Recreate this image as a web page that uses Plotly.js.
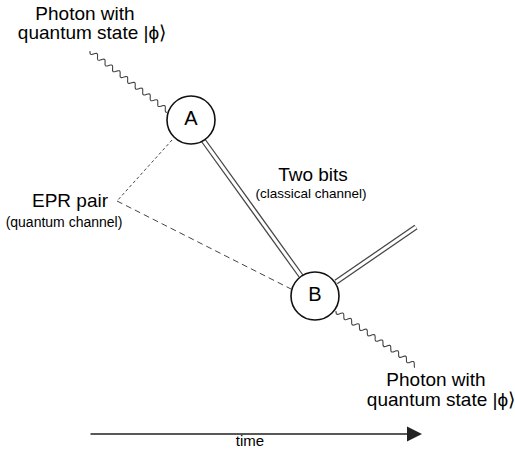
<!DOCTYPE html>
<html>
<head>
<meta charset="utf-8">
<script src="https://cdn.plot.ly/plotly-3.0.1.min.js"></script>
<style>html,body{margin:0;padding:0;background:#fff;}#chart{width:515px;height:456px;}</style>
</head>
<body>
<div id="chart"></div>
<script>
// ---- diagram data ----
const nodeLabels = ['A', 'B'];
const nodeX = [191, 315];
const nodeY = [120, 296];

const photonInX = [90, 168];
const photonInY = [51, 111];
const photonOutX = [336, 416];
const photonOutY = [311, 366];

const eprShortX = [172, 117];
const eprShortY = [140, 201];
const eprLongX = [117, 291];
const eprLongY = [201, 289];

const classicalABX = [203, 301];
const classicalABY = [140, 276];
const classicalOutX = [336, 416];
const classicalOutY = [282, 227];

const textLabels = ['Photon with', 'quantum state |ϕ⟩', 'EPR pair', '(quantum channel)',
                    'Two bits', '(classical channel)', 'Photon with', 'quantum state |ϕ⟩', 'time'];
const textX = [85, 92, 70, 64, 313, 311, 436, 441, 250];
const textY = [15, 34, 202, 223, 176, 195, 381, 401, 442];
const textSize = [19, 19, 19, 14, 19, 13.5, 19, 19, 15];

const arrowX = [89, 422];
const arrowY = [434, 434];

// ---- helpers ----
function wave(xs, ys, wl, amp) {
  const dx = xs[1] - xs[0], dy = ys[1] - ys[0];
  const L = Math.hypot(dx, dy);
  const ux = dx / L, uy = dy / L, nx = -uy, ny = ux;
  const n = Math.round(L * 3);
  const px = [], py = [];
  for (let i = 0; i <= n; i++) {
    const s = L * i / n;
    const o = amp * Math.sin(2 * Math.PI * s / wl);
    px.push(xs[0] + ux * s + nx * o);
    py.push(ys[0] + uy * s + ny * o);
  }
  return {x: px, y: py};
}

const FONT = 'Liberation Sans, Arial, sans-serif';
const traces = [];
const wIn = wave(photonInX, photonInY, 9.5, 2.2);
const wOut = wave(photonOutX, photonOutY, 9.5, 2.2);
[wIn, wOut].forEach(w => traces.push({x: w.x, y: w.y, mode: 'lines', line: {color: '#444', width: 1.1, simplify: false}, hoverinfo: 'skip'}));

traces.push({x: eprShortX, y: eprShortY, mode: 'lines', line: {color: '#444', width: 1, dash: '3px,2.5px'}, hoverinfo: 'skip'});
traces.push({x: eprLongX, y: eprLongY, mode: 'lines', line: {color: '#444', width: 1, dash: '6px,4px'}, hoverinfo: 'skip'});

[[classicalABX, classicalABY], [classicalOutX, classicalOutY]].forEach(([xs, ys]) => {
  traces.push({x: xs, y: ys, mode: 'lines', line: {color: '#444', width: 5.5}, hoverinfo: 'skip'});
  traces.push({x: xs, y: ys, mode: 'lines', line: {color: '#fff', width: 3}, hoverinfo: 'skip'});
});

traces.push({
  x: nodeX, y: nodeY, mode: 'markers+text', text: nodeLabels, textposition: 'middle center',
  textfont: {family: FONT, size: 20, color: '#000'},
  marker: {size: 48, color: '#fff', line: {color: '#111', width: 1.6}}, hoverinfo: 'skip'
});

textLabels.forEach((t, i) => traces.push({
  x: [textX[i]], y: [textY[i]], mode: 'text', text: [t], textposition: 'middle center',
  textfont: {family: FONT, size: textSize[i], color: '#000'}, hoverinfo: 'skip'
}));

const layout = {
  width: 515, height: 456,
  margin: {l: 0, r: 0, t: 0, b: 0},
  paper_bgcolor: '#fff', plot_bgcolor: '#fff',
  showlegend: false,
  xaxis: {range: [0, 515], visible: false, fixedrange: true},
  yaxis: {range: [456, 0], visible: false, fixedrange: true},
  annotations: [{
    x: arrowX[1], y: arrowY[1], ax: arrowX[0], ay: arrowY[0],
    xref: 'x', yref: 'y', axref: 'x', ayref: 'y',
    text: '', showarrow: true, arrowhead: 2, arrowsize: 2, arrowwidth: 1.5, arrowcolor: '#222'
  }]
};

Plotly.newPlot('chart', traces, layout, {staticPlot: true, displayModeBar: false});
</script>
</body>
</html>
